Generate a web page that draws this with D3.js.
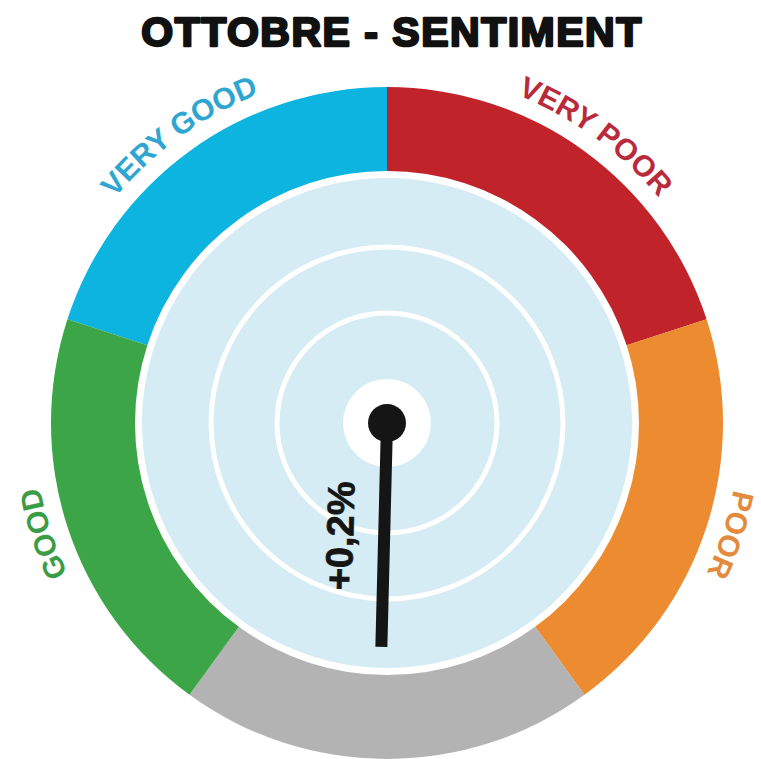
<!DOCTYPE html>
<html>
<head>
<meta charset="utf-8">
<script src="https://cdn.jsdelivr.net/npm/d3@7"></script>
<style>
  body { margin: 0; background: #fff; }
</style>
</head>
<body>
<div id="container"></div>
<script>
// chart data
let title = "OTTOBRE - SENTIMENT";
let categories = ["VERY GOOD", "VERY POOR", "POOR", "NEUTRAL", "GOOD"];
let showLabel = [true, true, true, false, true];
let segmentShare = [1, 1, 1, 1, 1];
let segColors = ["#0db4df", "#c1232b", "#ec8b2f", "#b3b3b3", "#3ca547"];
let labelColors = ["#2ea6d1", "#b92a3b", "#e38a3c", "#999", "#3b9c46"];
let sentimentValue = 0.2;
let sentimentText = "+0,2%";
let ringRadii = [110, 176];

let w = 761;
let h = 759;
let cx = 387;
let cy = 423;
let rOuter = 336;
let rInner = 252;
let rDisk = 245;
let rLabel = 353;
let deg = Math.PI / 180;

let viz = d3.select("#container")
  .append("svg")
    .attr("width", w)
    .attr("height", h)
;

viz.append("text")
  .text(title)
  .attr("x", 392)
  .attr("y", 46)
  .attr("text-anchor", "middle")
  .attr("font-family", "Liberation Sans, Arial, sans-serif")
  .attr("font-weight", "bold")
  .attr("font-size", 41)
  .attr("letter-spacing", 1.5)
  .attr("fill", "#111")
  .attr("stroke", "#111")
  .attr("stroke-width", 2.4)
  .attr("stroke-linejoin", "round")
;

let g = viz.append("g").attr("transform", "translate(" + cx + "," + cy + ")");

// outer ring, five equal parts starting at -72deg
let pie = d3.pie().sort(null).startAngle(-72 * deg).endAngle(288 * deg);
let arcs = pie(segmentShare);
let arc = d3.arc().innerRadius(rInner).outerRadius(rOuter);

g.selectAll(".seg")
  .data(arcs)
  .enter()
  .append("path")
    .attr("class", "seg")
    .attr("d", arc)
    .attr("fill", function(d, i){ return segColors[i]; })
;

// labels along a clockwise circle
let circlePath = "M 0," + (-rLabel) +
  " A " + rLabel + "," + rLabel + " 0 1,1 0," + rLabel +
  " A " + rLabel + "," + rLabel + " 0 1,1 0," + (-rLabel);
g.append("path")
  .attr("id", "labelCircle")
  .attr("d", circlePath)
  .attr("fill", "none");

let circ = 2 * Math.PI * rLabel;
arcs.forEach(function(d, i){
  if(!showLabel[i]) return;
  let mid = (d.startAngle + d.endAngle) / 2;
  if(mid < 0) mid += 2 * Math.PI;
  g.append("text")
    .attr("font-family", "Liberation Sans, Arial, sans-serif")
    .attr("font-weight", "bold")
    .attr("font-size", 30)
    .attr("fill", labelColors[i])
    .append("textPath")
      .attr("href", "#labelCircle")
      .attr("startOffset", (mid / (2 * Math.PI)) * circ)
      .attr("text-anchor", "middle")
      .text(categories[i])
  ;
});

// inner disk with rings
g.append("circle").attr("r", rDisk).attr("fill", "#d5ecf5");
g.selectAll(".ring")
  .data(ringRadii)
  .enter()
  .append("circle")
    .attr("class", "ring")
    .attr("r", function(d){ return d; })
    .attr("fill", "none")
    .attr("stroke", "#fff")
    .attr("stroke-width", 5)
;
g.append("circle").attr("r", 44).attr("fill", "#fff");

// needle
let needleScale = d3.scaleLinear().domain([-20, 20]).range([36, 324]);
let a = needleScale(sentimentValue);
let dir = [Math.sin(a * deg), -Math.cos(a * deg)];
let len = 224;

g.append("line")
  .attr("x1", 0).attr("y1", 0)
  .attr("x2", dir[0] * len).attr("y2", dir[1] * len)
  .attr("stroke", "#151515")
  .attr("stroke-width", 12)
;
g.append("circle").attr("r", 19).attr("fill", "#151515");

// value label next to the needle
let t = 114, off = 44;
let perp = [Math.cos(a * deg), Math.sin(a * deg)];
let lx = dir[0] * t + perp[0] * off;
let ly = dir[1] * t + perp[1] * off;
g.append("text")
  .text(sentimentText)
  .attr("transform", "translate(" + lx + "," + ly + ") rotate(" + (a - 270) + ")")
  .attr("text-anchor", "middle")
  .attr("dominant-baseline", "central")
  .attr("font-family", "Liberation Sans, Arial, sans-serif")
  .attr("font-weight", "bold")
  .attr("font-size", 38)
  .attr("fill", "#151515")
  .attr("stroke", "#151515")
  .attr("stroke-width", 0.8)
;
</script>
</body>
</html>
